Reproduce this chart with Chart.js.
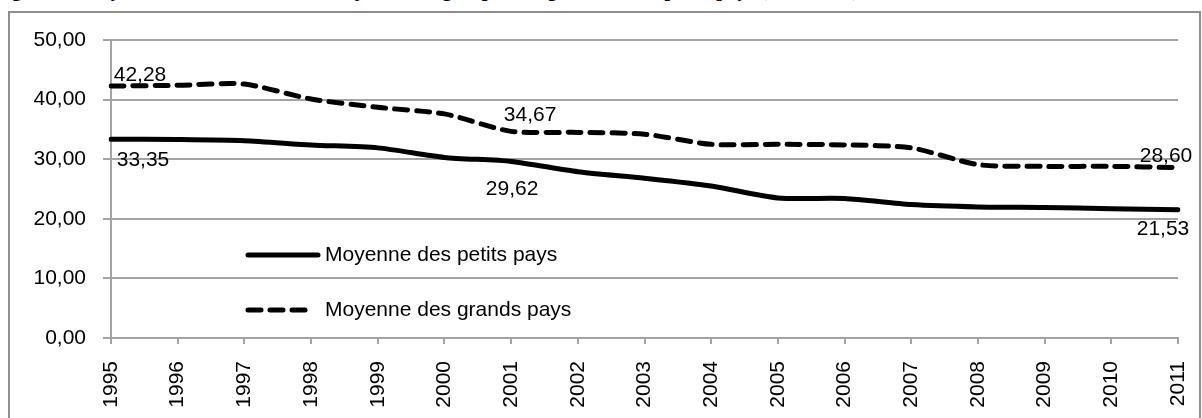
<!DOCTYPE html>
<html>
<head>
<meta charset="utf-8">
<script src="https://cdn.jsdelivr.net/npm/chart.js@4/dist/chart.umd.min.js"></script>
<style>
  html, body { margin: 0; padding: 0; background: #fff; overflow: hidden; }
  body { width: 1202px; height: 418px; position: relative; }
  #title {
    position: absolute; left: -6px; top: -21px; white-space: nowrap;
    font: bold 20px "Liberation Serif", serif; line-height: 20px; color: #000;
  }
  #frame {
    position: absolute; left: 8px; top: 11px; width: 1189px; height: 420px;
    border: 2px solid #8f8f8f;
  }
  #chart { position: absolute; left: 0; top: 0; }
</style>
</head>
<body>
<div id="title">Figure 2 : Moyenne des droits de douane ajustés des groupes des grands et des petits pays (1995-2011),</div>
<div id="frame"></div>
<canvas id="chart" width="1202" height="418"></canvas>
<script>
// data
const years = ["1995", "1996", "1997", "1998", "1999", "2000", "2001", "2002", "2003",
  "2004", "2005", "2006", "2007", "2008", "2009", "2010", "2011"];
const petitsPays = [33.35, 33.3, 33.1, 32.4, 31.9, 30.3, 29.62, 27.9, 26.8,
  25.5, 23.5, 23.4, 22.4, 22.0, 21.9, 21.7, 21.53];
const grandsPays = [42.28, 42.4, 42.6, 40.1, 38.7, 37.6, 34.67, 34.5, 34.2,
  32.5, 32.5, 32.4, 31.9, 29.1, 28.8, 28.8, 28.6];
const seriesNames = ["Moyenne des petits pays", "Moyenne des grands pays"];
const yTicks = [0, 10, 20, 30, 40, 50];

// which points carry a value label, and where the label sits from the point
const labelled = [0, 6, 16];
const labelOffsets = [
  [[32, 21], [1, 28], [-15, 20]],     // petits pays
  [[29, -11], [19, -16], [-12, -11]]  // grands pays
];

const FONT = '"Liberation Sans", Arial, sans-serif';
const GRID = "#a3a3a3";

const fmt = v => v.toFixed(2).replace(".", ",");

const valueLabels = {
  id: "valueLabels",
  afterDatasetsDraw(chart) {
    const ctx = chart.ctx;
    ctx.save();
    ctx.font = "21px " + FONT;
    ctx.fillStyle = "#000";
    ctx.textAlign = "center";
    ctx.textBaseline = "middle";
    chart.data.datasets.forEach((ds, di) => {
      const meta = chart.getDatasetMeta(di);
      labelled.forEach((idx, k) => {
        const pt = meta.data[idx];
        const off = labelOffsets[di][k];
        ctx.fillText(fmt(ds.data[idx]), pt.x + off[0], pt.y + off[1]);
      });
    });
    ctx.restore();
  }
};

// legend drawn inside the plot, lower left
const insideLegend = {
  id: "insideLegend",
  afterDatasetsDraw(chart) {
    const ctx = chart.ctx;
    const area = chart.chartArea;
    const rows = [215, 270];
    ctx.save();
    chart.data.datasets.forEach((ds, di) => {
      const x0 = area.left + 137;
      const y = area.top + rows[di];
      ctx.beginPath();
      ctx.lineWidth = ds.borderWidth;
      ctx.strokeStyle = ds.borderColor;
      ctx.lineCap = ds.borderCapStyle;
      ctx.setLineDash(ds.borderDash || []);
      ctx.moveTo(x0, y);
      ctx.lineTo(x0 + (di === 0 ? 70 : 62), y);
      ctx.stroke();
      ctx.setLineDash([]);
      ctx.font = "21px " + FONT;
      ctx.fillStyle = "#000";
      ctx.textAlign = "left";
      ctx.textBaseline = "middle";
      ctx.fillText(ds.label, x0 + 77, y);
    });
    ctx.restore();
  }
};

new Chart(document.getElementById("chart"), {
  type: "line",
  data: {
    labels: years,
    datasets: [
      {
        label: seriesNames[0],
        data: petitsPays,
        borderColor: "#000",
        borderWidth: 5,
        borderCapStyle: "round",
        pointRadius: 0,
        tension: 0.25,
        fill: false
      },
      {
        label: seriesNames[1],
        data: grandsPays,
        borderColor: "#000",
        borderWidth: 5,
        borderDash: [13, 9],
        borderCapStyle: "round",
        pointRadius: 0,
        tension: 0.25,
        fill: false
      }
    ]
  },
  options: {
    responsive: false,
    devicePixelRatio: 1,
    animation: false,
    layout: { padding: { left: 0, right: 24, top: 40, bottom: 0 } },
    plugins: {
      legend: { display: false },
      title: { display: false },
      tooltip: { enabled: false }
    },
    scales: {
      x: {
        offset: false,
        afterFit: scale => {
          scale.height = 80;
          scale.paddingLeft = 0;
          scale.paddingRight = 0;
        },
        grid: { drawOnChartArea: false, drawTicks: true, tickLength: 6, color: GRID, lineWidth: 2 },
        border: { color: GRID, width: 2 },
        ticks: {
          autoSkip: false, minRotation: 90, maxRotation: 90, padding: 17,
          color: "#000", font: { family: FONT, size: 21 }
        }
      },
      y: {
        min: yTicks[0],
        max: yTicks[yTicks.length - 1],
        afterFit: scale => {
          scale.width = 111;
          scale.paddingTop = 0;
          scale.paddingBottom = 0;
        },
        afterBuildTicks: scale => { scale.ticks = yTicks.map(v => ({ value: v })); },
        grid: { color: GRID, lineWidth: 2, tickLength: 8 },
        border: { color: GRID, width: 2 },
        ticks: {
          padding: 17, color: "#000",
          font: { family: FONT, size: 21 },
          callback: v => fmt(v)
        }
      }
    }
  },
  plugins: [valueLabels, insideLegend]
});
</script>
</body>
</html>
